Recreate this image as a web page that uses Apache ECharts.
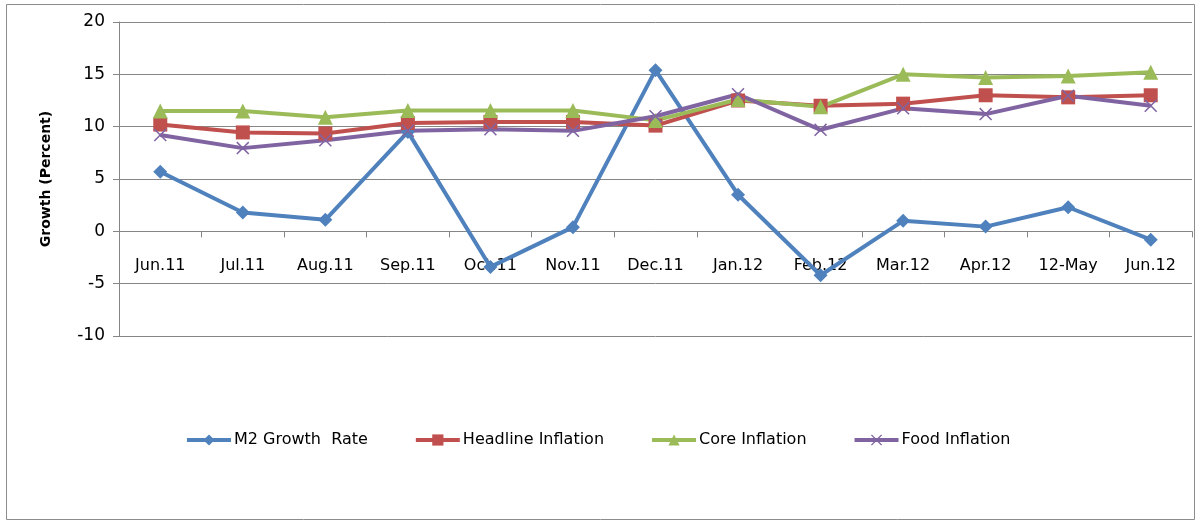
<!DOCTYPE html>
<html>
<head>
<meta charset="utf-8">
<script src="https://cdn.jsdelivr.net/npm/echarts@6/dist/echarts.min.js"></script>
<style>
html,body{margin:0;padding:0;background:#fff;}
#chart{width:1195px;height:520px;}
</style>
</head>
<body>
<div id="chart"></div>
<script>
var categories = ['Jun.11','Jul.11','Aug.11','Sep.11','Oct.11','Nov.11','Dec.11','Jan.12','Feb.12','Mar.12','Apr.12','12-May','Jun.12'];
var m2Growth = [5.7, 1.8, 1.1, 9.5, -3.4, 0.4, 15.4, 3.5, -4.2, 1.0, 0.45, 2.3, -0.8];
var headlineInflation = [10.2, 9.45, 9.35, 10.35, 10.45, 10.45, 10.1, 12.5, 12.0, 12.2, 13.0, 12.8, 13.0];
var coreInflation = [11.5, 11.5, 10.9, 11.55, 11.55, 11.55, 10.6, 12.6, 11.9, 15.0, 14.7, 14.85, 15.2];
var foodInflation = [9.2, 7.95, 8.7, 9.6, 9.75, 9.6, 11.0, 13.1, 9.7, 11.75, 11.2, 12.95, 12.0];
var yTicks = {min: -10, max: 20, interval: 5};

var FONT = 'DejaVu Sans';
var xSymbol = 'path://M0,1 L1,0 L6,5 L11,0 L12,1 L7,6 L12,11 L11,12 L6,7 L1,12 L0,11 L5,6 Z';

function mk(name, data, color, symbol, size) {
  return {
    name: name, type: 'line', data: data,
    symbol: symbol, symbolSize: size,
    lineStyle: {color: color, width: 4},
    itemStyle: {color: color},
    emphasis: {disabled: true},
    animation: false
  };
}

var chart = echarts.init(document.getElementById('chart'), null, {renderer: 'canvas'});
chart.setOption({
  backgroundColor: '#fff',
  animation: false,
  graphic: [{
    type: 'rect', left: 4, top: 2, silent: true,
    shape: {x: 0, y: 0, width: 1188, height: 515},
    style: {fill: 'none', stroke: '#8c8c8c', lineWidth: 1}
  }],
  grid: {left: 119, right: 3, top: 22, bottom: 184, containLabel: false},
  legend: {
    left: 180, top: 427,
    itemWidth: 44, itemHeight: 14, itemGap: 46,
    lineStyle: {width: 4},
    textStyle: {fontFamily: FONT, fontSize: 16, color: '#000', padding: [0, 0, 0, -2]},
    data: ['M2 Growth  Rate', 'Headline Inflation', 'Core Inflation', 'Food Inflation']
  },
  xAxis: {
    type: 'category', data: categories, boundaryGap: true,
    axisLine: {onZero: true, lineStyle: {color: '#868686', width: 1}},
    axisTick: {show: true, length: 6, inside: false, lineStyle: {color: '#868686'}},
    axisLabel: {fontFamily: FONT, fontSize: 16, color: '#000', margin: -78, interval: 0},
    splitLine: {show: false}
  },
  yAxis: {
    type: 'value', min: yTicks.min, max: yTicks.max, interval: yTicks.interval,
    name: 'Growth (Percent)', nameLocation: 'middle', nameGap: 66, nameRotate: 90,
    nameTextStyle: {fontFamily: FONT, fontSize: 14, fontWeight: 'bold', color: '#000'},
    axisLine: {show: true, lineStyle: {color: '#868686', width: 1}},
    axisTick: {show: true, length: 6, lineStyle: {color: '#868686'}},
    axisLabel: {fontFamily: FONT, fontSize: 17, color: '#000', margin: 14},
    splitLine: {show: true, lineStyle: {color: '#868686', width: 1}}
  },
  series: [
    mk('M2 Growth  Rate', m2Growth, '#4F81BD', 'diamond', 14),
    mk('Headline Inflation', headlineInflation, '#C0504D', 'rect', 14),
    mk('Core Inflation', coreInflation, '#9BBB59', 'triangle', 15),
    mk('Food Inflation', foodInflation, '#8064A2', xSymbol, 13)
  ]
});
</script>
</body>
</html>
